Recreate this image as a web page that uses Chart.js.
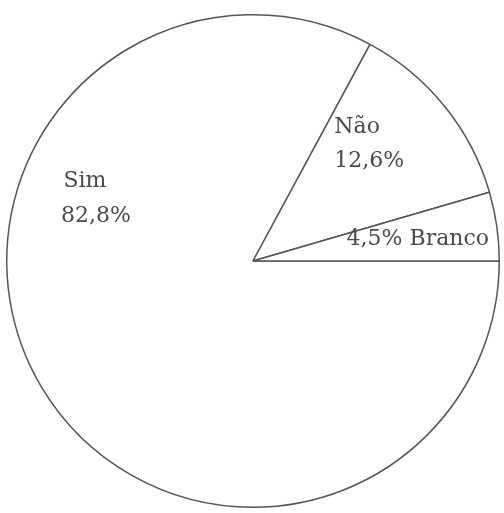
<!DOCTYPE html>
<html>
<head>
<meta charset="utf-8">
<script src="https://cdn.jsdelivr.net/npm/chart.js@4/dist/chart.umd.min.js"></script>
<style>
  html, body { margin: 0; padding: 0; background: #fff; }
  #wrap { width: 504px; height: 513px; position: relative; }
</style>
</head>
<body>
<div id="wrap"><canvas id="pie"></canvas></div>
<script>
// Data (clockwise from 3 o'clock)
const categories = ["Sim", "Não", "Branco"];
const percentValues = [82.8, 12.6, 4.5];
const percentLabels = ["82,8%", "12,6%", "4,5%"];

// Text labels drawn on the slices (positions relative to the pie center / radius)
const sliceLabels = {
    id: "sliceLabels",
    afterDatasetsDraw(chart) {
        const ctx = chart.ctx;
        const arc = chart.getDatasetMeta(0).data[0];
        const cx = arc.x, cy = arc.y, r = arc.outerRadius;
        ctx.save();
        ctx.fillStyle = "#4a4a4a";
        ctx.font = "22px 'DejaVu Serif'";
        ctx.textAlign = "left";
        ctx.textBaseline = "alphabetic";
        const px = (fx) => cx + fx * r;
        const py = (fy) => cy + fy * r;
        // Sim
        ctx.fillText(categories[0], px(-0.77), py(-0.30));
        ctx.fillText(percentLabels[0], px(-0.78), py(-0.16));
        // Não
        ctx.fillText(categories[1], px(0.33), py(-0.52));
        ctx.fillText(percentLabels[1], px(0.33), py(-0.38));
        // Branco
        ctx.fillText(percentLabels[2] + " " + categories[2], px(0.38), py(-0.065));
        ctx.restore();
    }
};

new Chart(document.getElementById("pie"), {
    type: "pie",
    data: {
        labels: categories,
        datasets: [{
            data: percentValues,
            backgroundColor: "#ffffff",
            borderColor: "#555555",
            borderWidth: 1.5
        }]
    },
    options: {
        responsive: true,
        maintainAspectRatio: false,
        animation: false,
        rotation: 90,
        layout: { padding: { left: 6, right: 4, top: 14, bottom: 5 } },
        plugins: {
            legend: { display: false },
            tooltip: { enabled: false }
        }
    },
    plugins: [sliceLabels]
});
</script>
</body>
</html>
